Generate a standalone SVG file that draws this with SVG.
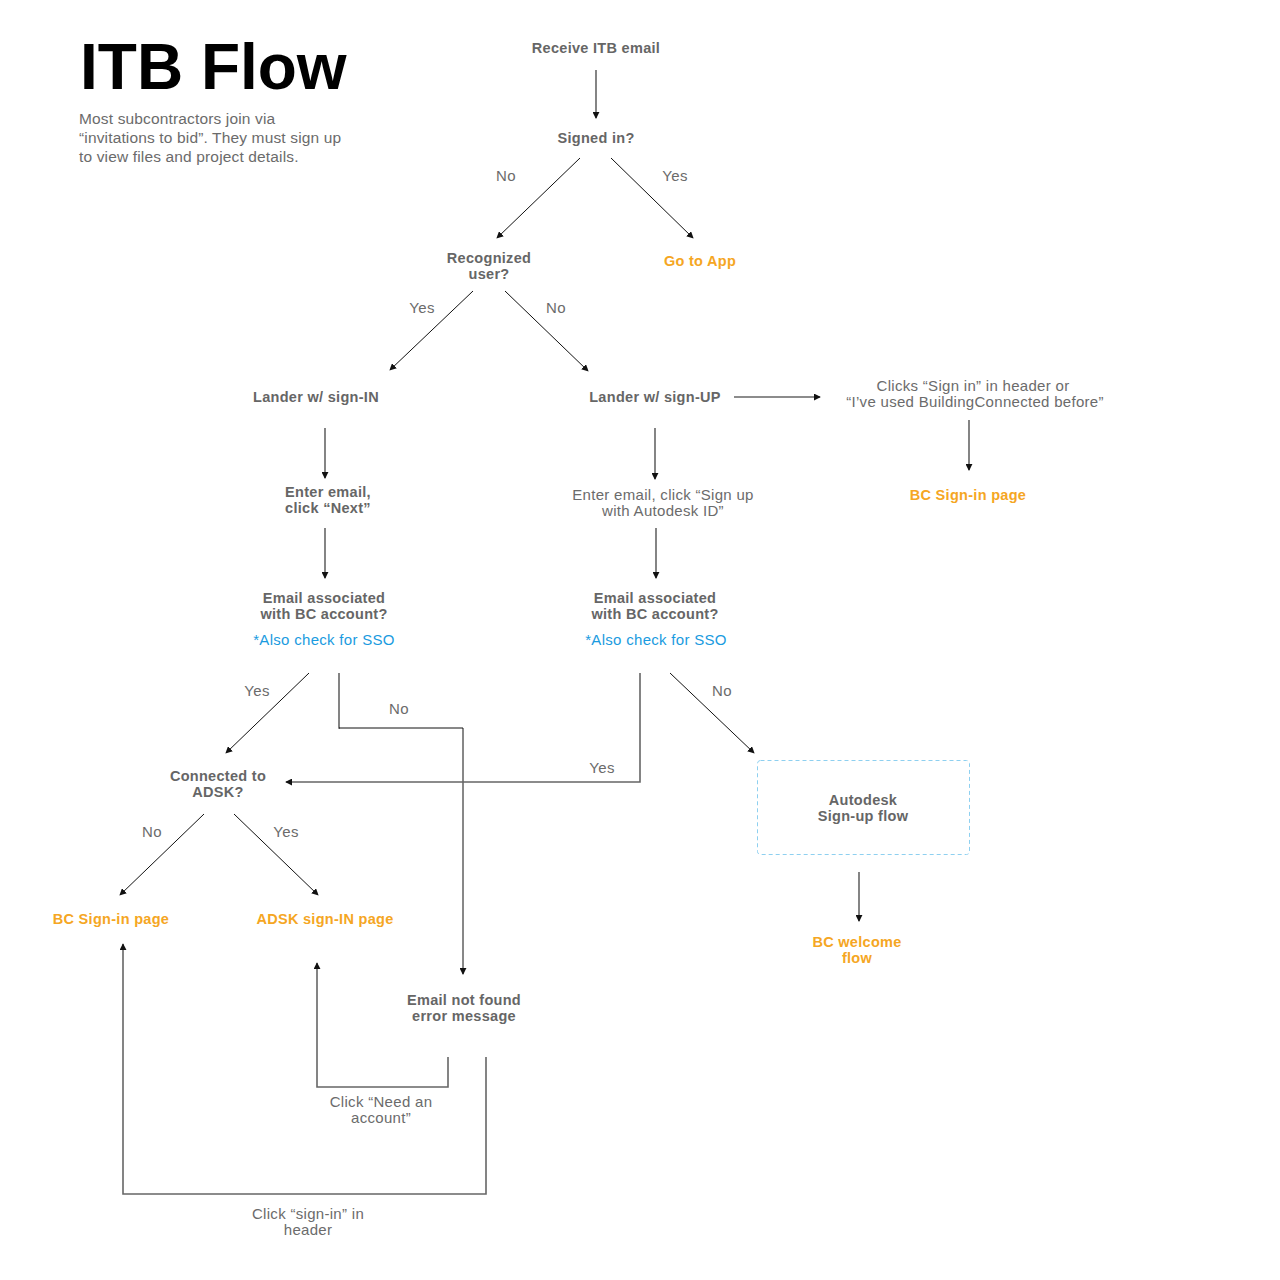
<svg xmlns="http://www.w3.org/2000/svg" width="1280" height="1280" viewBox="0 0 1280 1280">
<style>
text{font-family:"Liberation Sans",Arial,sans-serif;text-anchor:middle}
.b{font-size:14.5px;font-weight:bold;fill:#666;letter-spacing:0.3px}
.r{font-size:15px;fill:#6b6b6b;letter-spacing:0.3px}
.o{font-size:14.5px;font-weight:bold;fill:#F5A623;letter-spacing:0.3px}
.s{font-size:15px;fill:#1A9BE0;letter-spacing:0.3px}
.d{font-size:15.5px;fill:#6b6b6b;text-anchor:start;letter-spacing:0.15px}
.g{fill:none;stroke:#666;stroke-width:1.6}
.k{fill:none;stroke:#111;stroke-width:1}
</style>
<defs>
<marker id="ah" viewBox="0 0 8 8" refX="7" refY="4" markerWidth="7" markerHeight="7" markerUnits="userSpaceOnUse" orient="auto"><path d="M0,0 L8,4 L0,8 z" fill="#111"/></marker>
</defs>
<rect width="1280" height="1280" fill="#fff"/>
<g id="title">
<text x="80" y="89" style="font-size:64px;font-weight:bold;fill:#000;text-anchor:start">ITB Flow</text>
<text class="d" x="79" y="124">Most subcontractors join via</text>
<text class="d" x="79" y="143">“invitations to bid”. They must sign up</text>
<text class="d" x="79" y="162">to view files and project details.</text>
</g>
<g id="connectors">
<line class="g" x1="596" y1="70" x2="596" y2="118" marker-end="url(#ah)"/>
<line class="k" x1="580" y1="158" x2="497" y2="238" marker-end="url(#ah)"/>
<line class="k" x1="611" y1="158" x2="693" y2="238" marker-end="url(#ah)"/>
<line class="k" x1="473" y1="291" x2="390" y2="370" marker-end="url(#ah)"/>
<line class="k" x1="505" y1="291" x2="588" y2="371" marker-end="url(#ah)"/>
<line class="g" x1="734" y1="397" x2="820" y2="397" marker-end="url(#ah)"/>
<line class="g" x1="969" y1="420" x2="969" y2="470" marker-end="url(#ah)"/>
<line class="g" x1="325" y1="428" x2="325" y2="478" marker-end="url(#ah)"/>
<line class="g" x1="655" y1="428" x2="655" y2="479" marker-end="url(#ah)"/>
<line class="g" x1="325" y1="528" x2="325" y2="578" marker-end="url(#ah)"/>
<line class="g" x1="656" y1="528" x2="656" y2="578" marker-end="url(#ah)"/>
<line class="k" x1="309" y1="673" x2="226" y2="753" marker-end="url(#ah)"/>
<polyline class="g" points="339,673 339,728 340,728"/>
<polyline class="k" points="339,728 463,728 463,974" marker-end="url(#ah)"/>
<polyline class="g" points="640,673 640,782 286,782" marker-end="url(#ah)"/>
<line class="k" x1="670" y1="673" x2="754" y2="753" marker-end="url(#ah)"/>
<line class="k" x1="204" y1="814" x2="120" y2="895" marker-end="url(#ah)"/>
<line class="k" x1="234" y1="814" x2="318" y2="895" marker-end="url(#ah)"/>
<line class="g" x1="859" y1="872" x2="859" y2="921" marker-end="url(#ah)"/>
<polyline class="g" points="448,1057 448,1087 317,1087 317,963" marker-end="url(#ah)"/>
<polyline class="g" points="486,1057 486,1194 123,1194 123,944" marker-end="url(#ah)"/>
</g>
<g id="edge-labels">
<text class="r" x="506" y="181">No</text>
<text class="r" x="675" y="181">Yes</text>
<text class="r" x="422" y="313">Yes</text>
<text class="r" x="556" y="313">No</text>
<text class="r" x="257" y="696">Yes</text>
<text class="r" x="399" y="714">No</text>
<text class="r" x="602" y="773">Yes</text>
<text class="r" x="722" y="696">No</text>
<text class="r" x="152" y="837">No</text>
<text class="r" x="286" y="837">Yes</text>
<text class="r" x="381" y="1107">Click “Need an</text>
<text class="r" x="381" y="1123">account”</text>
<text class="r" x="308" y="1219">Click “sign-in” in</text>
<text class="r" x="308" y="1235">header</text>
</g>
<g id="n-receive"><text class="b" x="596" y="53">Receive ITB email</text></g>
<g id="n-signed"><text class="b" x="596" y="143">Signed in?</text></g>
<g id="n-recognized"><text class="b" x="489" y="263">Recognized</text><text class="b" x="489" y="279">user?</text></g>
<g id="n-goapp"><text class="o" x="700" y="266">Go to App</text></g>
<g id="n-lander-in"><text class="b" x="316" y="402">Lander w/ sign-IN</text></g>
<g id="n-lander-up"><text class="b" x="655" y="402">Lander w/ sign-UP</text></g>
<g id="n-clicks"><text class="r" x="973" y="391">Clicks “Sign in” in header or</text><text class="r" x="975" y="407">“I’ve used BuildingConnected before”</text></g>
<g id="n-bcsignin-r"><text class="o" x="968" y="500">BC Sign-in page</text></g>
<g id="n-enter-next"><text class="b" x="328" y="497">Enter email,</text><text class="b" x="328" y="513">click “Next”</text></g>
<g id="n-enter-signup"><text class="r" x="663" y="500">Enter email, click “Sign up</text><text class="r" x="663" y="516">with Autodesk ID”</text></g>
<g id="n-assoc-l"><text class="b" x="324" y="603">Email associated</text><text class="b" x="324" y="619">with BC account?</text><text class="s" x="324" y="645">*Also check for SSO</text></g>
<g id="n-assoc-r"><text class="b" x="655" y="603">Email associated</text><text class="b" x="655" y="619">with BC account?</text><text class="s" x="656" y="645">*Also check for SSO</text></g>
<g id="n-connected"><text class="b" x="218" y="781">Connected to</text><text class="b" x="218" y="797">ADSK?</text></g>
<g id="n-autodesk-signup"><rect x="757.5" y="760.5" width="212" height="94" rx="3" fill="none" stroke="#8ED0F0" stroke-width="1" stroke-dasharray="4,3"/><text class="b" x="863" y="805">Autodesk</text><text class="b" x="863" y="821">Sign-up flow</text></g>
<g id="n-bcsignin-l"><text class="o" x="111" y="924">BC Sign-in page</text></g>
<g id="n-adsk-signin"><text class="o" x="325" y="924">ADSK sign-IN page</text></g>
<g id="n-welcome"><text class="o" x="857" y="947">BC welcome</text><text class="o" x="857" y="963">flow</text></g>
<g id="n-notfound"><text class="b" x="464" y="1005">Email not found</text><text class="b" x="464" y="1021">error message</text></g>
</svg>
